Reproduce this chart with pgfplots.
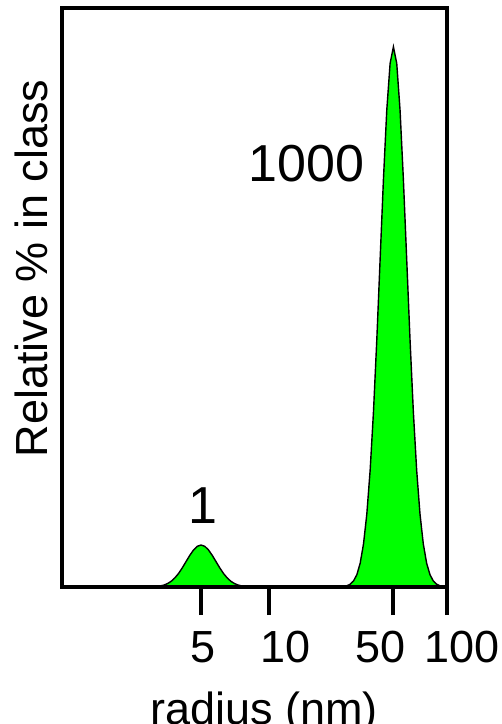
\documentclass[border=0pt]{standalone}
\usepackage{pgfplots}
\pgfplotsset{compat=1.18}
\usepackage{fontspec}
\setmainfont{Liberation Sans}
\definecolor{peakgreen}{RGB}{0,255,0}
\begin{document}
\begin{tikzpicture}
\begin{axis}[
  name=ax, at={(0,0)}, anchor=south west,
  scale only axis, width=192.5pt, height=289.5pt,
  xmode=log, xmin=0.687, xmax=100, ymin=0, ymax=100,
  axis on top,
  axis line style={line width=2pt, black},
  ytick=\empty,
  xtick={4.134,10,50,100},
  xticklabels={\hspace*{2.5pt}5, \hspace*{16.5pt}10, 50\hspace*{12.5pt}, \hspace*{15pt}100},
  xminorticks=false,
  xtick pos=left, tick align=outside,
  major tick length=14pt,
  major tick style={line width=2pt, black},
  xticklabel shift=8pt,
  xticklabel style={font=\fontsize{22.5}{27}\selectfont, inner sep=0pt, anchor=north},
  xlabel={radius (nm)},
  xlabel style={font=\fontsize{22.5}{27}\selectfont, inner sep=0pt, at={(axis description cs:0.5247,-0.1813)}, anchor=north},
  ylabel={Relative \% in class},
  ylabel style={font=\fontsize{22.5}{27}\selectfont, inner sep=0pt, rotate=0, at={(axis description cs:-0.036,0.55)}, anchor=south},
]
\addplot[fill=peakgreen, draw=black, line width=0.7pt] coordinates {
(2.009,0) (2.109,0.02) (2.213,0.04) (2.323,0.08) (2.438,0.17) (2.559,0.32)
(2.686,0.58) (2.819,0.98) (2.958,1.57) (3.105,2.35) (3.259,3.32) (3.420,4.40)
(3.590,5.47) (3.768,6.40) (3.954,7.03) (4.150,7.25) (4.356,7.03) (4.571,6.40)
(4.798,5.47) (5.036,4.40) (5.285,3.32) (5.547,2.35) (5.822,1.57) (6.110,0.98)
(6.413,0.58) (6.730,0.32) (7.064,0.17) (7.414,0.08) (7.781,0.04) (8.167,0.02)
(8.571,0)
} \closedcycle;
\addplot[fill=peakgreen, draw=black, line width=0.7pt] coordinates {
(26.23,0) (27.39,0.21) (28.59,0.48) (29.84,1.04) (31.16,2.13) (32.52,4.10)
(33.96,7.43) (35.45,12.62) (37.01,20.18) (38.64,30.29) (40.33,42.71) (42.10,56.59)
(43.95,70.42) (45.88,82.34) (47.90,90.43) (50.00,93.30) (52.20,90.43) (54.49,82.34)
(56.88,70.42) (59.38,56.59) (61.99,42.71) (64.71,30.29) (67.55,20.18) (70.51,12.62)
(73.62,7.43) (76.87,4.10) (80.24,2.13) (83.77,1.04) (87.45,0.48) (91.29,0.21)
(95.30,0)
} \closedcycle;
\node[anchor=base, inner sep=0pt, font=\fontsize{26}{31}\selectfont] at (axis cs:16.25,69.95) {1000};
\node[anchor=base, inner sep=0pt, font=\fontsize{26}{31}\selectfont] at (axis cs:4.257,11.05) {1};
\end{axis}
\pgfresetboundingbox
\path[use as bounding box] (-31pt,-68.5pt) rectangle (220pt,293.5pt);
\end{tikzpicture}
\end{document}
